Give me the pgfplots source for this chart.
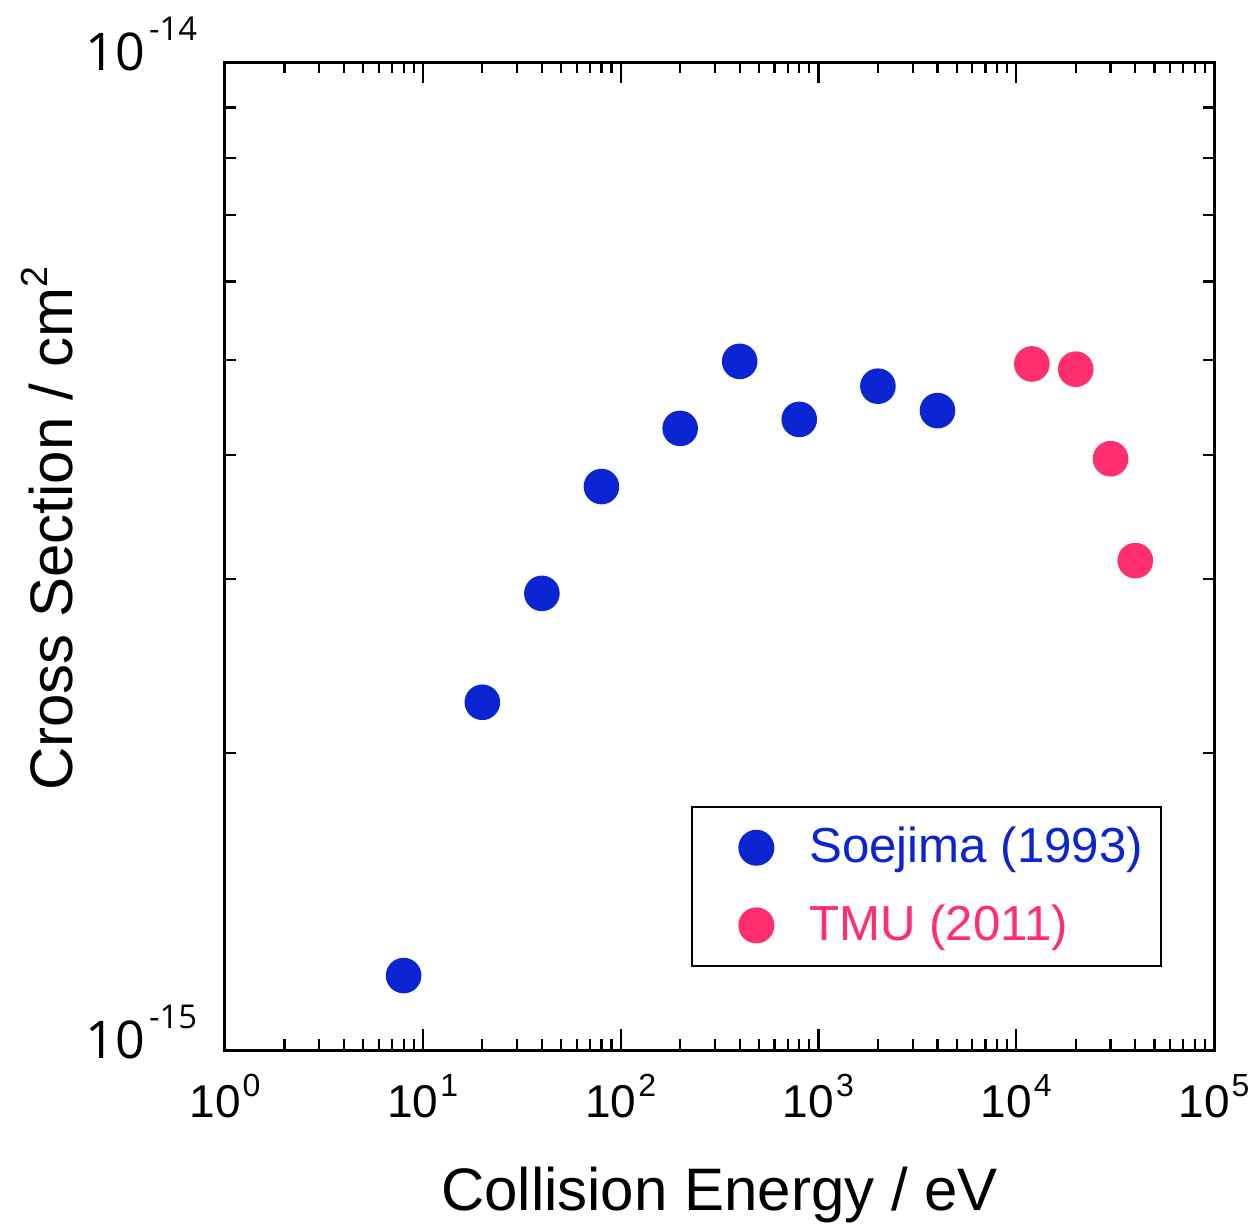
\documentclass[border=0pt]{standalone}
\usepackage{fontspec}
\setmainfont{Liberation Sans}
\newfontfamily\ticksans{Open Sans}
\usepackage{pgfplots}
\pgfplotsset{compat=1.18}
\definecolor{soeblue}{RGB}{12,37,210}
\definecolor{tmupink}{RGB}{255,46,110}

% tick label helpers
\newcommand{\xpow}[1]{10\kern0.5pt\raisebox{5.25pt}{\fontsize{8}{8}\selectfont #1}}
\newcommand{\ypow}[1]{{\ticksans 10\kern1pt\raisebox{7.5pt}{\fontsize{8.2}{8.2}\selectfont #1}}}

\pgfplotsset{
  legimg/.style={legend image code/.code={%
      \path (-11.25pt,0pt);
      \draw[##1] plot coordinates {(0pt,0pt)};}},
}

\begin{document}
\begin{tikzpicture}
\begin{axis}[
  scale only axis,
  width=247.25pt, height=247pt,
  xmode=log, ymode=log,
  xmin=1, xmax=1e5, ymin=1e-15, ymax=1e-14,
  axis line style={line width=0.75pt},
  tick style={line width=0.55pt, black},
  major tick length=5.25pt, minor tick length=2.75pt,
  tick align=inside,
  xtick={1,10,100,1000,10000,100000},
  xticklabels={\xpow{0},\xpow{1},\xpow{2},\xpow{3},\xpow{4},\xpow{5}},
  minor xtick={2,3,4,5,6,7,8,9,
               20,30,40,50,60,70,80,90,
               200,300,400,500,600,700,800,900,
               2000,3000,4000,5000,6000,7000,8000,9000,
               20000,30000,40000,50000,60000,70000,80000,90000},
  ytick={1e-15,1e-14},
  yticklabels={\ypow{-15},\ypow{-14}},
  minor ytick={2e-15,3e-15,4e-15,5e-15,6e-15,7e-15,8e-15,9e-15},
  xticklabel style={font=\fontsize{11.5}{11.5}\selectfont, anchor=base,
                    inner sep=0pt, yshift=-16.75pt},
  yticklabel style={font=\fontsize{13}{13}\selectfont, anchor=base east,
                    inner sep=0pt, xshift=-6.75pt, yshift=-2pt},
  xlabel={Collision Energy / eV},
  ylabel={Cross Section / cm\raisebox{6.25pt}{\fontsize{9.4}{9.4}\selectfont 2}},
  label style={font=\fontsize{15}{15}\selectfont},
  xlabel style={at={(axis description cs:0.5,-0.162)}, anchor=base},
  ylabel style={at={(axis description cs:-0.154,0.528)}, anchor=base},
  legend style={at={(axis description cs:0.9474,0.084)}, anchor=south east,
                draw=black, line width=0.5pt,
                inner xsep=4.5pt, inner ysep=5pt,
                row sep=9pt, column sep=9pt,
                font=\fontsize{12.3}{12.3}\selectfont,
                nodes={inner sep=0pt}},
  legend cell align=left,
]
\addplot[only marks, mark=*, mark size=4.25pt, color=soeblue, legimg]
  coordinates {
  (8,1.19e-15) (20,2.25e-15) (40,2.90e-15) (80,3.72e-15) (200,4.26e-15)
  (400,4.98e-15) (800,4.35e-15) (2000,4.70e-15) (4000,4.44e-15)};
\addlegendentry{\textcolor{soeblue}{Soejima (1993)}}
\addplot[only marks, mark=*, mark size=4.25pt, color=tmupink, legimg]
  coordinates {
  (12000,4.95e-15) (20000,4.89e-15) (30000,3.97e-15) (40000,3.13e-15)};
\addlegendentry{\textcolor{tmupink}{TMU (2011)}}
\end{axis}
\pgfresetboundingbox
\path ([shift={(-56.25pt,-44pt)}]current axis.south west)
  rectangle ([shift={(11.25pt,15.5pt)}]current axis.north east);
\end{tikzpicture}
\end{document}
